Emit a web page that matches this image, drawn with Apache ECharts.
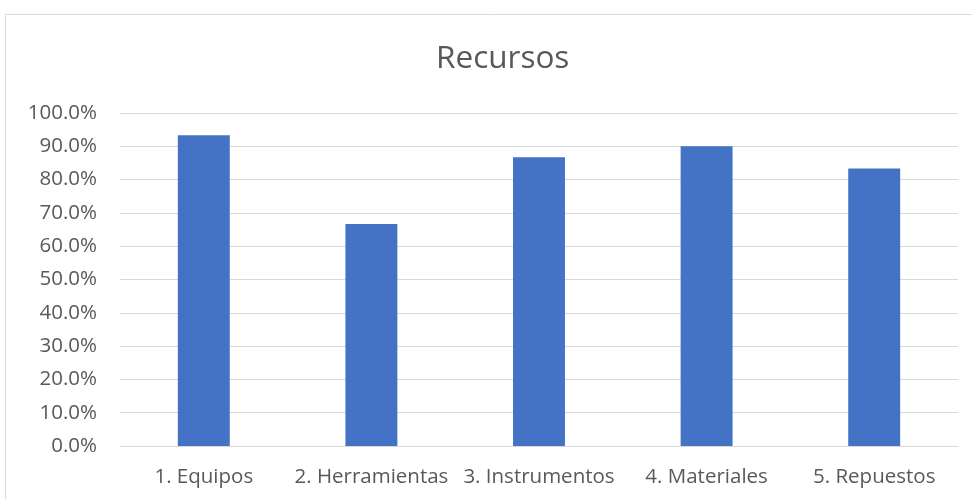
<!DOCTYPE html>
<html>
<head>
<meta charset="utf-8">
<script src="https://cdn.jsdelivr.net/npm/echarts@6/dist/echarts.min.js"></script>
<style>html,body{margin:0;padding:0;background:#fff}#c{width:972px;height:499px}</style>
</head>
<body>
<div id="c"></div>
<script>
const titleText = "Recursos";
const categories = ["1. Equipos", "2. Herramientas", "3. Instrumentos", "4. Materiales", "5. Repuestos"];
const values = [93.3, 66.7, 86.7, 90.0, 83.3];

const chart = echarts.init(document.getElementById('c'), null, {renderer: 'canvas'});
const font = "'Open Sans', 'Noto Sans', sans-serif";
chart.setOption({
  animation: false,
  backgroundColor: '#fff',
  graphic: [{
    type: 'rect', shape: {x: 5.5, y: 14.5, width: 1000, height: 600},
    style: {fill: 'none', stroke: '#d9d9d9', lineWidth: 1}, silent: true
  }],
  title: {
    text: titleText, left: 431, top: 38,
    textStyle: {fontFamily: font, fontSize: 31.5, fontWeight: 'normal', color: '#595959'}
  },
  grid: {left: 120, right: 14, top: 113, bottom: 53, containLabel: false},
  xAxis: {
    type: 'category', data: categories,
    axisLine: {lineStyle: {color: '#d9d9d9', width: 1}},
    axisTick: {show: false},
    axisLabel: {fontFamily: font, fontSize: 20.5, color: '#595959', margin: 21, interval: 0}
  },
  yAxis: {
    type: 'value', min: 0, max: 100, interval: 10,
    axisLine: {show: false}, axisTick: {show: false},
    splitLine: {lineStyle: {color: '#d9d9d9', width: 1}},
    axisLabel: {fontFamily: font, fontSize: 20.5, color: '#595959', margin: 23,
      formatter: v => v.toFixed(1) + '%'}
  },
  series: [{
    type: 'bar', data: values, barWidth: '31%',
    itemStyle: {color: '#4472C4'}
  }]
});
</script>
</body>
</html>
